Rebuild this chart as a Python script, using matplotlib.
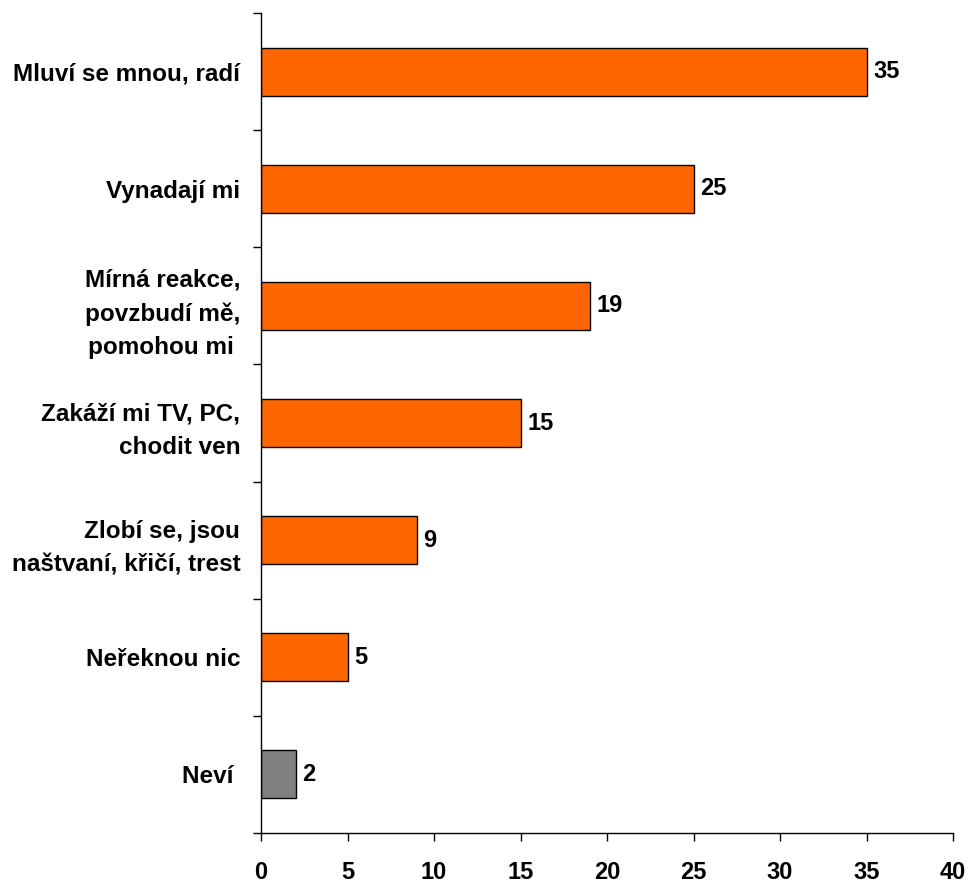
import matplotlib
matplotlib.use("Agg")
import matplotlib.pyplot as plt
import numpy as np

categories = ["Mluví se mnou, radí", "Vynadají mi", "Mírná reakce,\npovzbudí mě,\npomohou mi ",
              "Zakáží mi TV, PC,\nchodit ven", "Zlobí se, jsou\nnaštvaní, křičí, trest",
              "Neřeknou nic", "Neví "]
values = [35, 25, 19, 15, 9, 5, 2]
colors = ["#FF6600"] * 6 + ["#808080"]
xticks = [0, 5, 10, 15, 20, 25, 30, 35, 40]

plt.rcParams['font.family'] = ['Liberation Sans', 'DejaVu Sans']
plt.rcParams['font.weight'] = 'bold'

fig = plt.figure(figsize=(9.71, 8.83), dpi=100)
ax = fig.add_axes([261/971, 1 - 833/883, (953 - 261)/971, (833 - 13)/883])

n = len(categories)
ypos = np.arange(n)
ax.barh(ypos, values, height=0.41, color=colors, edgecolor="black", linewidth=1.0)
ax.set_ylim(n - 0.5, -0.5)
ax.set_xlim(0, 40)

ax.set_xticks(xticks)
ax.set_xticklabels([str(t) for t in xticks], fontsize=17, fontweight='bold')
ax.set_yticks(ypos)
labels = ax.set_yticklabels(categories, fontsize=17.5, fontweight='bold', linespacing=1.6)
for lab in labels:
    lab.set_verticalalignment('center_baseline')
ax.tick_params(axis='y', length=0, pad=15)
ax.set_yticks(np.arange(n + 1) - 0.5, minor=True)
ax.tick_params(axis='y', which='minor', length=6, width=1, direction='out')
ax.tick_params(axis='x', length=6, width=1, direction='out', pad=14)

for s in ['top', 'right']:
    ax.spines[s].set_visible(False)
for s in ['left', 'bottom']:
    ax.spines[s].set_linewidth(1.0)

for y, v in zip(ypos, values):
    ax.text(v + 0.4, y, str(v), va='center', ha='left', fontsize=17, fontweight='bold')

fig.savefig("out.png", dpi=100)
